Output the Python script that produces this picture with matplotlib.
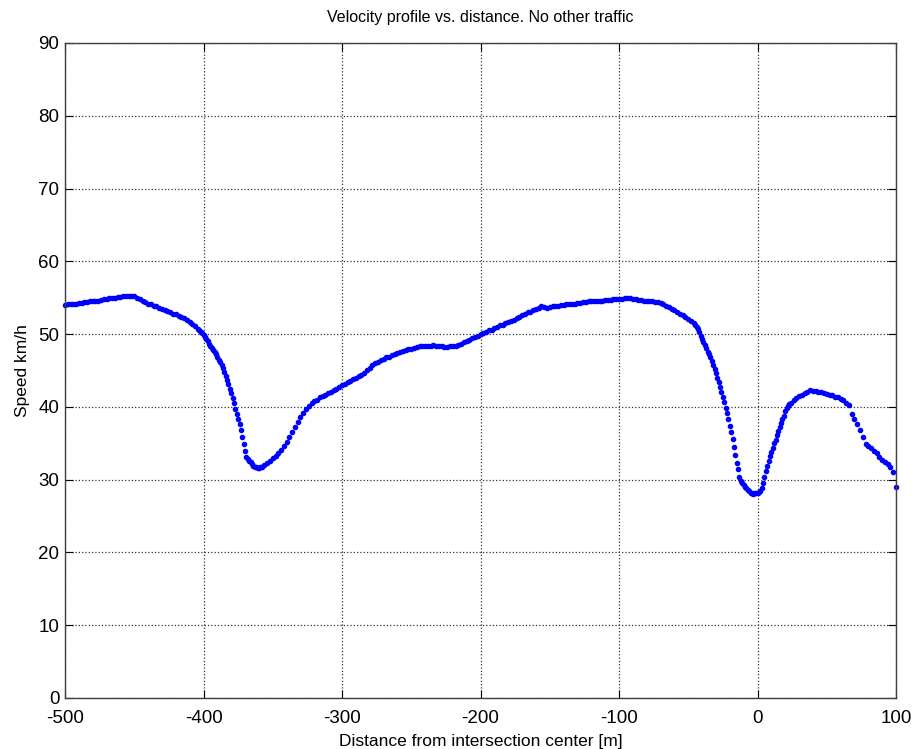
import numpy as np
import matplotlib
matplotlib.use("Agg")
import matplotlib.pyplot as plt

plt.rcParams['font.family'] = ['Liberation Sans', 'DejaVu Sans']
plt.rcParams['axes.unicode_minus'] = False

title = "Velocity profile vs. distance. No other traffic"
xlabel = "Distance from intersection center [m]"
ylabel = "Speed km/h"
xticks = [-500, -400, -300, -200, -100, 0, 100]
yticks = [0, 10, 20, 30, 40, 50, 60, 70, 80, 90]

# Segment A: -500 .. -404 step 2
xa = np.arange(-500, -403, 2)
ya = [54.0, 54.1, 54.1, 54.2, 54.2, 54.3, 54.3, 54.4, 54.4, 54.5,
      54.5, 54.6, 54.6, 54.7, 54.8, 54.8, 54.9, 55.0, 55.0, 55.1,
      55.1, 55.2, 55.2, 55.3, 55.3, 55.2, 55.0, 54.8, 54.6, 54.4,
      54.2, 54.1, 53.9, 53.8, 53.6, 53.5, 53.3, 53.2, 53.0, 52.8,
      52.7, 52.5, 52.4, 52.2, 52.0, 51.7, 51.4, 51.1, 50.7]
# Segment B: -403 .. -359 step 1
xb = np.arange(-403, -358, 1)
yb = [50.5, 50.3, 50.1, 49.9, 49.6, 49.3, 49.0, 48.7, 48.4, 48.1,
      47.8, 47.5, 47.2, 46.8, 46.5, 46.1, 45.7, 45.3, 44.8, 44.3,
      43.7, 43.2, 42.5, 41.9, 41.2, 40.5, 39.7, 39.0, 38.3, 37.6,
      36.8, 35.9, 34.9, 34.0, 33.1, 32.8, 32.6, 32.4, 32.1, 31.9,
      31.8, 31.7, 31.6, 31.6, 31.7]
# Segment C: -358 .. -202 step 2
xc = np.arange(-358, -201, 2)
yc = [31.8, 32.0, 32.3, 32.6, 33.0, 33.3, 33.7, 34.1, 34.6, 35.2,
      35.9, 36.5, 37.2, 37.9, 38.6, 39.2, 39.7, 40.1, 40.5, 40.8,
      41.0, 41.3, 41.5, 41.7, 41.9, 42.1, 42.3, 42.5, 42.8, 43.0,
      43.2, 43.4, 43.6, 43.8, 44.0, 44.2, 44.4, 44.6, 45.0, 45.4,
      45.7, 46.0, 46.2, 46.4, 46.6, 46.8, 46.9, 47.1, 47.3, 47.4,
      47.5, 47.7, 47.8, 47.9, 48.0, 48.1, 48.2, 48.3, 48.3, 48.4,
      48.4, 48.4, 48.5, 48.3, 48.3, 48.3, 48.2, 48.2, 48.3, 48.3,
      48.4, 48.5, 48.7, 48.9, 49.0, 49.2, 49.4, 49.6, 49.8]
# Segment D: -200 .. -46 step 2
xd = np.arange(-200, -45, 2)
yd = [50.0, 50.2, 50.3, 50.5, 50.6, 50.8, 51.0, 51.2, 51.3, 51.5,
      51.7, 51.8, 52.0, 52.2, 52.4, 52.6, 52.8, 53.0, 53.1, 53.3,
      53.4, 53.6, 53.8, 53.7, 53.6, 53.7, 53.8, 53.9, 53.9, 54.0,
      54.0, 54.1, 54.1, 54.2, 54.2, 54.3, 54.3, 54.4, 54.4, 54.5,
      54.5, 54.5, 54.6, 54.6, 54.6, 54.7, 54.7, 54.7, 54.8, 54.8,
      54.8, 54.8, 54.9, 54.9, 54.9, 54.8, 54.8, 54.7, 54.7, 54.6,
      54.6, 54.5, 54.5, 54.4, 54.4, 54.3, 54.1, 53.9, 53.7, 53.5,
      53.3, 53.0, 52.8, 52.6, 52.4, 52.1, 51.8, 51.5]
# Segment E: -45 .. 24 step 1
xe = np.arange(-45, 25, 1)
ye = [51.2, 51.0, 50.7, 50.3, 49.8, 49.3, 48.9, 48.5, 48.1, 47.6,
      47.2, 46.8, 46.3, 45.8, 45.2, 44.6, 44.0, 43.4, 42.8, 42.1,
      41.4, 40.7, 39.9, 39.1, 38.3, 37.4, 36.5, 35.6, 34.5, 33.4,
      32.3, 31.4, 30.4, 29.8, 29.5, 29.2, 29.0, 28.8, 28.6, 28.4,
      28.2, 28.1, 28.0, 28.1, 28.1, 28.2, 28.3, 28.5, 28.9, 29.6,
      30.4, 31.2, 31.9, 32.5, 33.2, 33.8, 34.4, 35.0, 35.5, 36.1,
      36.7, 37.2, 37.8, 38.3, 38.8, 39.4, 39.8, 40.1, 40.4, 40.6]
# Segment F: 26 .. 100 step 2
xf = np.arange(26, 101, 2)
yf = [40.9, 41.2, 41.5, 41.7, 41.9, 42.1, 42.3, 42.2, 42.2, 42.1,
      42.0, 41.9, 41.8, 41.7, 41.6, 41.4, 41.3, 41.1, 40.9, 40.6,
      40.2, 39.0, 38.3, 37.6, 36.8, 35.8, 34.9, 34.6, 34.3, 34.0,
      33.6, 33.1, 32.7, 32.4, 32.1, 31.8, 31.0, 29.0]

distance = np.concatenate([xa, xb, xc, xd, xe, xf])
speed = np.concatenate([ya, yb, yc, yd, ye, yf])

fig = plt.figure(figsize=(9.13, 7.49), dpi=100)
ax = fig.add_axes([65/913, 1-698/749, (896-65)/913, (698-43)/749])
ax.plot(distance, speed, linestyle='none', marker='.', markersize=6,
        color=(0, 0, 1), clip_on=False)
ax.set_xlim(-500, 100)
ax.set_ylim(0, 90)
ax.set_xticks(xticks)
ax.set_yticks(yticks)
ax.grid(True, linestyle=':', color='#333333', linewidth=0.9)
ax.tick_params(direction='in', length=6, top=True, right=True,
               labelsize=13.5, colors='black')
ax.tick_params(axis='x', pad=8.5)
ax.tick_params(axis='y', pad=4)
for s in ax.spines.values():
    s.set_color('#404040')
    s.set_linewidth(1.0)
ax.set_title(title, fontsize=11.5, pad=15)
ax.set_xlabel(xlabel, fontsize=12.5, labelpad=5)
ax.set_ylabel(ylabel, fontsize=12.5, labelpad=6)
fig.savefig("out.png", dpi=100)
